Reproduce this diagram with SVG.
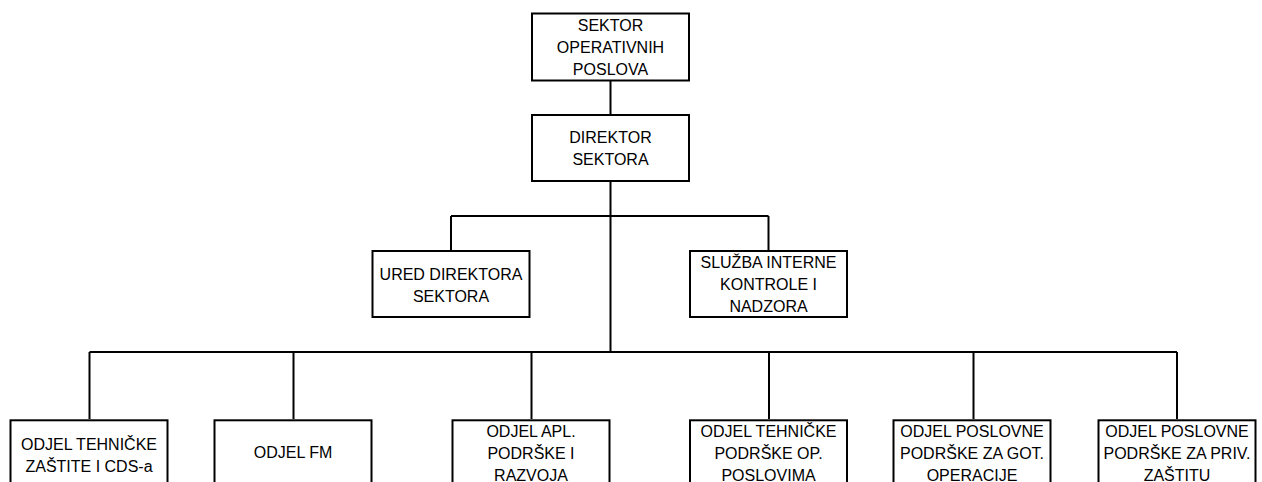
<svg xmlns="http://www.w3.org/2000/svg" width="1262" height="482" viewBox="0 0 1262 482">
<style>
.box{fill:#fff;stroke:#000;stroke-width:2}
.lbl{font-family:"Liberation Sans",Arial,sans-serif;font-size:16px;fill:#000;text-anchor:middle}
.conn{fill:none;stroke:#000;stroke-width:2}
</style>
<rect width="1262" height="482" fill="#fff"/>
<g id="connectors" class="conn">
<path d="M610.5 81 V114"/>
<path d="M610.5 182 V352"/>
<path d="M451 216 H768.5"/>
<path d="M451 216 V250"/>
<path d="M768.5 216 V250"/>
<path d="M89.5 352 H1177"/>
<path d="M89.5 352 V419"/>
<path d="M293.5 352 V419"/>
<path d="M531.5 352 V419"/>
<path d="M769 352 V419"/>
<path d="M973.5 352 V419"/>
<path d="M1177 352 V419"/>
</g>
<g id="sektor">
<rect class="box" x="532" y="13.5" width="157" height="67"/>
<text class="lbl" x="610.5" y="30.5">SEKTOR</text>
<text class="lbl" x="610.5" y="52.5">OPERATIVNIH</text>
<text class="lbl" x="610.5" y="74.5">POSLOVA</text>
</g>
<g id="direktor">
<rect class="box" x="532" y="115" width="157" height="66"/>
<text class="lbl" x="610.5" y="143">DIREKTOR</text>
<text class="lbl" x="610.5" y="165">SEKTORA</text>
</g>
<g id="ured">
<rect class="box" x="372.5" y="251" width="157" height="66"/>
<text class="lbl" x="451" y="279.5">URED DIREKTORA</text>
<text class="lbl" x="451" y="301.5">SEKTORA</text>
</g>
<g id="sluzba">
<rect class="box" x="690" y="251" width="157" height="66"/>
<text class="lbl" x="768.5" y="268">SLUŽBA INTERNE</text>
<text class="lbl" x="768.5" y="290">KONTROLE I</text>
<text class="lbl" x="768.5" y="312">NADZORA</text>
</g>
<g id="odjel-tehnicke-zastite">
<rect class="box" x="10.5" y="420.3" width="157" height="66"/>
<text class="lbl" x="89" y="449.5">ODJEL TEHNIČKE</text>
<text class="lbl" x="89" y="471.5">ZAŠTITE I CDS-a</text>
</g>
<g id="odjel-fm">
<rect class="box" x="214.5" y="420.3" width="157" height="66"/>
<text class="lbl" x="293" y="458.3">ODJEL FM</text>
</g>
<g id="odjel-apl">
<rect class="box" x="452.5" y="420.3" width="157" height="66"/>
<text class="lbl" x="531" y="437">ODJEL APL.</text>
<text class="lbl" x="531" y="459">PODRŠKE I</text>
<text class="lbl" x="531" y="481">RAZVOJA</text>
</g>
<g id="odjel-tehnicke-podrske">
<rect class="box" x="690" y="420.3" width="157" height="66"/>
<text class="lbl" x="768.5" y="437">ODJEL TEHNIČKE</text>
<text class="lbl" x="768.5" y="459">PODRŠKE OP.</text>
<text class="lbl" x="768.5" y="481">POSLOVIMA</text>
</g>
<g id="odjel-got-operacije">
<rect class="box" x="893.5" y="420.3" width="157" height="66"/>
<text class="lbl" x="972" y="437">ODJEL POSLOVNE</text>
<text class="lbl" x="972" y="459">PODRŠKE ZA GOT.</text>
<text class="lbl" x="972" y="481">OPERACIJE</text>
</g>
<g id="odjel-priv-zastitu">
<rect class="box" x="1098.5" y="420.3" width="157" height="66"/>
<text class="lbl" x="1177" y="437">ODJEL POSLOVNE</text>
<text class="lbl" x="1177" y="459">PODRŠKE ZA PRIV.</text>
<text class="lbl" x="1177" y="481">ZAŠTITU</text>
</g>
</svg>
